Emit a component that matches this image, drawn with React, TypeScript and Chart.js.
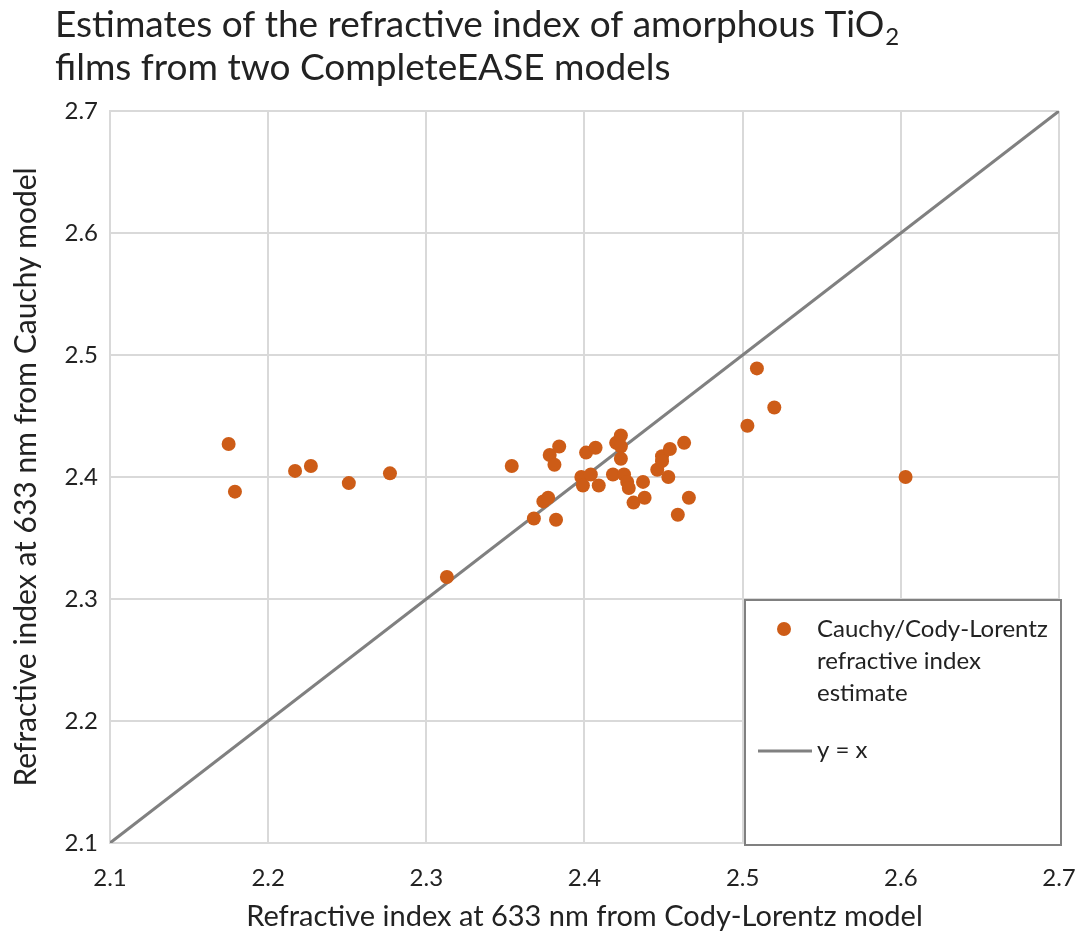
import { useEffect, useRef } from "react";
import { Chart, registerables } from "chart.js";

Chart.register(...registerables);

// Refractive index at 633 nm, one entry per film
const codyLorentzIndex = [
  2.175, 2.179, 2.217, 2.227, 2.251, 2.277, 2.313, 2.354, 2.368, 2.374, 2.377,
  2.378, 2.381, 2.382, 2.384, 2.398, 2.399, 2.401, 2.404, 2.407, 2.409, 2.418,
  2.42, 2.423, 2.423, 2.423, 2.425, 2.427, 2.428, 2.431, 2.437, 2.438, 2.446,
  2.449, 2.449, 2.453, 2.454, 2.459, 2.463, 2.466, 2.503, 2.509, 2.52, 2.603,
];
const cauchyIndex = [
  2.427, 2.388, 2.405, 2.409, 2.395, 2.403, 2.318, 2.409, 2.366, 2.38, 2.383,
  2.418, 2.41, 2.365, 2.425, 2.4, 2.393, 2.42, 2.402, 2.424, 2.393, 2.402,
  2.428, 2.434, 2.425, 2.415, 2.402, 2.396, 2.391, 2.379, 2.396, 2.383, 2.406,
  2.417, 2.413, 2.4, 2.423, 2.369, 2.428, 2.383, 2.442, 2.489, 2.457, 2.4,
];
// Reference line y = x over the axis range
const identityEnds = [2.1, 2.7];
const tickValues = [2.1, 2.2, 2.3, 2.4, 2.5, 2.6, 2.7];

const titleLines = [
  "Estimates of the refractive index of amorphous TiO",
  "films from two CompleteEASE models",
];
const titleSubscript = "2";
const xAxisTitle = "Refractive index at 633 nm from Cody-Lorentz model";
const yAxisTitle = "Refractive index at 633 nm from Cauchy model";
const legendPointLabel = ["Cauchy/Cody-Lorentz", "refractive index", "estimate"];
const legendLineLabel = "y = x";

const FONT = "Lato, 'Noto Sans', sans-serif";
const TEXT = "#222222";
const POINT = "#CD5C17";
const LINE = "#808080";
const GRID = "#D9D9D9";

const titlePlugin = {
  id: "subscriptTitle",
  afterDraw(chart: any) {
    const ctx = chart.ctx as CanvasRenderingContext2D;
    ctx.save();
    ctx.fillStyle = TEXT;
    ctx.textBaseline = "alphabetic";
    ctx.textAlign = "left";
    ctx.font = `37px ${FONT}`;
    ctx.fillText(titleLines[0], 55, 37);
    const w = ctx.measureText(titleLines[0]).width;
    ctx.font = `24px ${FONT}`;
    ctx.fillText(titleSubscript, 55 + w + 1, 45);
    ctx.font = `37px ${FONT}`;
    ctx.fillText(titleLines[1], 55, 80);
    ctx.restore();
  },
};

const legendPlugin = {
  id: "boxedLegend",
  afterDraw(chart: any) {
    const ctx = chart.ctx as CanvasRenderingContext2D;
    const area = chart.chartArea;
    const right = area.right + 2;
    const bottom = area.bottom + 2;
    const left = right - 316;
    const top = bottom - 245;
    ctx.save();
    ctx.fillStyle = "#ffffff";
    ctx.fillRect(left, top, right - left, bottom - top);
    ctx.strokeStyle = LINE;
    ctx.lineWidth = 2;
    ctx.strokeRect(left, top, right - left, bottom - top);

    ctx.fillStyle = POINT;
    ctx.beginPath();
    ctx.arc(left + 39, top + 29, 7, 0, Math.PI * 2);
    ctx.fill();

    ctx.fillStyle = TEXT;
    ctx.font = `24px ${FONT}`;
    ctx.textBaseline = "middle";
    ctx.textAlign = "left";
    legendPointLabel.forEach((t, i) => {
      ctx.fillText(t, left + 72, top + 29 + i * 32);
    });

    ctx.strokeStyle = LINE;
    ctx.lineWidth = 3;
    ctx.beginPath();
    ctx.moveTo(left + 13, top + 151);
    ctx.lineTo(left + 67, top + 151);
    ctx.stroke();
    ctx.fillText(legendLineLabel, left + 72, top + 150);
    ctx.restore();
  },
};

export default function App() {
  const canvasRef = useRef<HTMLCanvasElement | null>(null);

  useEffect(() => {
    document.body.style.margin = "0";
    const canvas = canvasRef.current;
    if (!canvas) return;

    const points = codyLorentzIndex.map((x, i) => ({ x, y: cauchyIndex[i] }));
    const identity = identityEnds.map((v) => ({ x: v, y: v }));

    const fixTicks = (scale: any) => {
      scale.ticks = tickValues.map((value) => ({ value }));
    };

    const chart = new Chart(canvas, {
      type: "scatter",
      data: {
        datasets: [
          {
            label: "Cauchy/Cody-Lorentz refractive index estimate",
            data: points,
            backgroundColor: POINT,
            borderColor: POINT,
            pointRadius: 7,
            borderWidth: 0,
            order: 0,
          },
          {
            type: "line",
            label: "y = x",
            data: identity,
            borderColor: LINE,
            borderWidth: 3,
            pointRadius: 0,
            fill: false,
            order: 1,
          } as any,
        ],
      },
      options: {
        animation: false,
        responsive: false,
        events: [],
        layout: { padding: { top: 111, right: 24, left: 0, bottom: 0 } },
        plugins: {
          legend: { display: false },
          title: { display: false },
          tooltip: { enabled: false },
        },
        scales: {
          x: {
            type: "linear",
            min: 2.1,
            max: 2.7,
            afterBuildTicks: fixTicks,
            afterFit: (s: any) => {
              s.height = 95;
              s.paddingLeft = 0;
              s.paddingRight = 0;
            },
            grid: { color: GRID, lineWidth: 2, drawTicks: false },
            border: { color: GRID, width: 2 },
            ticks: {
              color: TEXT,
              font: { family: FONT, size: 24 },
              padding: 21,
              callback: (v: any) => Number(v).toFixed(1),
            },
            title: {
              display: true,
              text: xAxisTitle,
              color: TEXT,
              font: { family: FONT, size: 29 },
              padding: { top: 0, bottom: 4 },
            },
          },
          y: {
            type: "linear",
            min: 2.1,
            max: 2.7,
            afterBuildTicks: fixTicks,
            afterFit: (s: any) => {
              s.width = 110;
              s.paddingTop = 0;
              s.paddingBottom = 0;
            },
            grid: { color: GRID, lineWidth: 2, drawTicks: false },
            border: { color: GRID, width: 2 },
            ticks: {
              color: TEXT,
              font: { family: FONT, size: 24 },
              padding: 12,
              callback: (v: any) => Number(v).toFixed(1),
            },
            title: {
              display: true,
              text: yAxisTitle,
              color: TEXT,
              font: { family: FONT, size: 30 },
              padding: { top: 8, bottom: 0 },
            },
          },
        },
      },
      plugins: [titlePlugin, legendPlugin],
    });

    return () => chart.destroy();
  }, []);

  return (
    <div style={{ width: 1083, height: 938, background: "#ffffff" }}>
      <canvas ref={canvasRef} width={1083} height={938} />
    </div>
  );
}
